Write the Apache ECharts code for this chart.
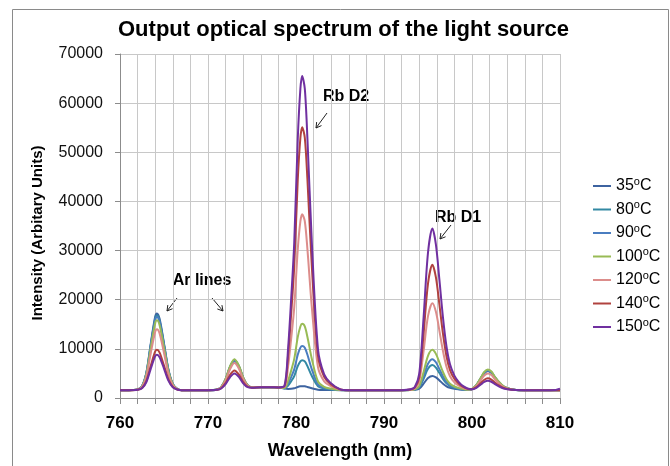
<!DOCTYPE html>
<html><head><meta charset="utf-8">
<script src="https://cdn.jsdelivr.net/npm/echarts@6/dist/echarts.min.js"></script>
<style>html,body{margin:0;padding:0;background:#fff}#c{width:670px;height:466px}</style>
</head><body><div id="c"></div>
<script>
const wavelengths = [760,761,762,762.5,763,763.5,764,764.2,764.5,765,
765.5,766,766.5,767,768,769,770,771,771.5,772,
772.5,773,773.5,774,774.5,775,776,777,778,778.7,
779.1,779.45,779.8,780.2,780.5,780.7,781.0,781.3,781.8,782.5,
783.2,783.9,785,786,788,790,792,793,793.5,794,
794.5,795,795.5,795.9,796.3,796.7,797.1,797.5,798,798.5,
799,799.5,800,800.5,801,801.4,801.8,802.2,802.6,803.1,
803.6,804.2,805,806,808,809.5,810];

const seriesNames = ['35°C','80°C','90°C','100°C','120°C','140°C','150°C'];

const s35 = [1600,1600,1760,2380,5190,11120,16580,17200,16110,11120,
5810,2850,1850,1600,1600,1600,1600,1700,2200,3760,
6220,7600,6400,4060,2560,2170,2200,2200,2150,1910,
1850,1880,1980,2240,2370,2400,2370,2240,1980,1700,
1640,1620,1600,1600,1600,1600,1600,1610,1660,1890,
2910,4070,4500,4210,3570,2910,2380,2060,1860,1750,
1670,1630,1800,2580,3940,5030,5500,5110,4140,3080,
2300,1870,1640,1600,1600,1600,1600];

const s80 = [1600,1600,1750,2360,5100,10870,16190,16800,15740,10870,
5700,2820,1840,1600,1600,1600,1600,1710,2220,3830,
6370,7800,6560,4140,2590,2170,2200,2200,2150,1960,
2540,3420,4470,6480,7460,7700,7460,6480,4470,2390,
1910,1750,1620,1600,1600,1600,1600,1630,1700,2110,
3900,5940,6700,6190,5070,3900,2980,2420,2060,1860,
1730,1650,1820,2630,4060,5210,5700,5290,4270,3160,
2340,1890,1640,1600,1600,1600,1600];

const s90 = [1600,1600,1750,2350,5030,10690,15900,16500,15460,10690,
5620,2790,1840,1600,1600,1600,1600,1700,2200,3760,
6220,7600,6400,4060,2560,2170,2200,2200,2150,1990,
2920,4260,5830,8800,10240,10600,10240,8800,5830,2770,
2050,1820,1630,1600,1600,1600,1600,1630,1730,2230,
4440,6960,7900,7270,5880,4440,3300,2610,2170,1920,
1760,1660,1820,2600,4000,5120,5600,5200,4200,3120,
2320,1880,1640,1600,1600,1600,1600];

const s100 = [1600,1600,1740,2310,4870,10260,15230,15800,14810,10260,
5430,2740,1830,1600,1600,1600,1600,1710,2230,3870,
6450,7900,6640,4180,2600,2180,2200,2200,2150,2040,
3510,5570,7950,12400,14560,15100,14560,12400,7950,3360,
2280,1920,1640,1600,1600,1600,1600,1640,1760,2420,
5290,8570,9800,8980,7180,5290,3810,2910,2340,2010,
1810,1680,1840,2650,4120,5300,5800,5380,4330,3200,
2360,1890,1640,1600,1600,1600,1600];

const s120 = [1600,1600,1720,2220,4450,9160,13500,14000,13130,9160,
4950,2590,1800,1600,1600,1600,1600,1690,2150,3580,
5840,7100,6000,3860,2490,2150,2200,2200,2150,2260,
6400,12030,18430,30240,35970,37400,35970,30240,18430,6250,
3390,2460,1710,1600,1600,1600,1600,1690,1950,3370,
9570,16650,19300,17530,13640,9570,6380,4430,3190,2490,
2040,1780,1820,2450,3640,4590,5000,4660,3810,2890,
2210,1840,1630,1600,1600,1600,1600];

const s140 = [1600,1600,1680,2010,3490,6600,9470,9800,9230,6600,
3810,2260,1730,1600,1600,1600,1600,1670,2000,3040,
4680,5600,4800,3240,2290,2110,2200,2200,2150,2440,
8710,17170,26750,44400,52960,55100,52960,44400,26750,8560,
4280,2880,1760,1600,1600,1600,1600,1730,2110,4150,
13080,23280,27100,24550,18940,13080,8490,5680,3900,2880,
2240,1860,1800,2200,3040,3710,4000,3760,3160,2510,
2030,1770,1620,1600,1600,1600,1600];

const s150 = [1600,1600,1670,1960,3260,5990,8510,8800,8300,5990,
3540,2180,1720,1600,1600,1600,1600,1660,1940,2820,
4220,5000,4320,2990,2210,2100,2200,2200,2150,2540,
10060,20180,31630,52720,62940,65500,62940,52720,31630,9910,
4800,3130,1790,1600,1600,1600,1600,1770,2260,4890,
16410,29570,34500,31210,23970,16410,10480,6860,4560,3250,
2420,1930,1790,2080,2740,3270,3500,3310,2840,2320,
1940,1730,1620,1600,1600,1650,1900];

const yTicks = [0,10000,20000,30000,40000,50000,60000,70000];
const xLabelTicks = [760,770,780,790,800,810];

const allSeries = [s35,s80,s90,s100,s120,s140,s150];
const colors = ['#3d63a0','#3389a3','#4a7dc0','#98bb55','#dc8d8b','#b0423f','#7030a0'];
const FONT = '"Liberation Sans", Arial, sans-serif';

const chart = echarts.init(document.getElementById('c'), null, {renderer:'canvas'});

function arrow(x1,y1,x2,y2){
  const dx=x2-x1, dy=y2-y1, L=Math.hypot(dx,dy);
  const ux=-dx/L, uy=-dy/L, len=6, c=Math.cos(Math.PI/6), s=Math.sin(Math.PI/6);
  const p1=[x2+len*(ux*c-uy*s), y2+len*(ux*s+uy*c)];
  const p2=[x2+len*(ux*c+uy*s), y2+len*(-ux*s+uy*c)];
  return [
    {type:'line', shape:{x1,y1,x2,y2}, style:{stroke:'#222', lineWidth:1}},
    {type:'polyline', shape:{points:[p1,[x2,y2],p2]}, style:{stroke:'#222', lineWidth:1, fill:null}}
  ];
}
function label(text,x,y){
  return {type:'text', x, y, style:{text, font:'bold 16px '+FONT, fill:'#000', textAlign:'center', textVerticalAlign:'middle'}};
}

const graphics = [
  {type:'rect', shape:{x:12.5,y:9.5,width:656,height:500}, style:{fill:null, stroke:'#8a8a8a', lineWidth:1}, silent:true},
  label('Rb D2',346,97), label('Rb D1',458,218), label('Ar lines',202,281),
  ...arrow(327,113,316,128), ...arrow(451,225,440,239),
  ...arrow(177,298,167,311), ...arrow(212,298,223,311)
];

chart.setOption({
  animation:false,
  backgroundColor:'#fff',
  title:{text:'Output optical spectrum of the light source', left:113, top:14,
    textStyle:{fontFamily:FONT, fontSize:22, fontWeight:'bold', color:'#000'}},
  grid:{left:120, right:110, top:54, bottom:68, containLabel:false},
  legend:{orient:'vertical', left:588, top:171, itemWidth:18, itemHeight:2, itemGap:5.5,
    icon:'rect',
    data:seriesNames,
    formatter:n=>'{n|'+n.replace('°','}{sup|o}{n|')+'}',
    textStyle:{fontFamily:FONT, fontSize:16, color:'#000',
      rich:{n:{fontFamily:FONT, fontSize:16, lineHeight:20, color:'#000'},
            sup:{fontFamily:FONT, fontSize:11, lineHeight:11, verticalAlign:'top', color:'#000'}}}},
  xAxis:{type:'value', min:760, max:810, interval:2,
    name:'Wavelength (nm)', nameLocation:'middle', nameGap:44,
    nameTextStyle:{fontFamily:FONT, fontSize:18, fontWeight:'bold', color:'#000'},
    axisLine:{lineStyle:{color:'#8c8c8c', width:1}},
    axisTick:{show:true, length:6, lineStyle:{color:'#8c8c8c'}},
    axisLabel:{margin:17, fontFamily:FONT, fontSize:17, fontWeight:'bold', color:'#000',
      formatter:v=>xLabelTicks.includes(v)?String(v):''},
    splitLine:{show:true, lineStyle:{color:'#c8c8c8', width:1}}},
  yAxis:{type:'value', min:0, max:70000, interval:10000,
    name:'Intensity (Arbitary Units)', nameLocation:'middle', nameGap:75,
    nameTextStyle:{fontFamily:FONT, fontSize:15, fontWeight:'bold', color:'#000', padding:[0,14,0,0]},
    axisLine:{show:true, lineStyle:{color:'#8c8c8c', width:1}},
    axisTick:{show:true, length:5, lineStyle:{color:'#8c8c8c'}},
    axisLabel:{margin:17, fontFamily:FONT, fontSize:16, color:'#111',
      formatter:v=>yTicks.includes(v)?String(v):''},
    splitLine:{show:true, lineStyle:{color:'#c8c8c8', width:1}}},
  series: seriesNames.map((n,i)=>({
    name:n, type:'line', showSymbol:false, symbol:'none', smooth:0.3,
    color:colors[i], lineStyle:{width:2, color:colors[i]},
    data: wavelengths.map((w,j)=>[w, allSeries[i][j]])
  })),
  graphic: graphics
});
</script></body></html>
